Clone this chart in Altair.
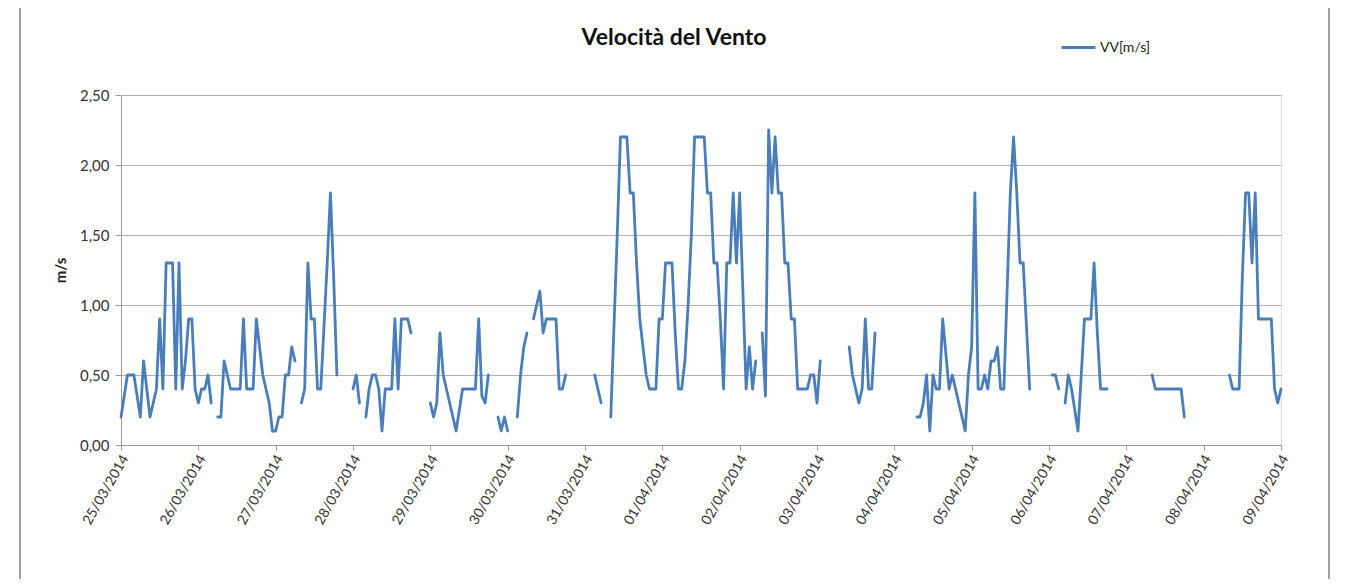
import json
import altair as alt
import pandas as pd

# hours since 25/03/2014 00:00 ; None in speed marks a gap in the record
hours = [0, 2, 4, 6, 7, 9, 10, 11, 12, 13, 14, 16, 17, 18, 19, 20, 21, 22, 23, 24, 25, 26, 27, 28, 29,
         30, 31, 32, 33, 34, 37, 38, 39, 41, 42, 43, 44, 45, 46, 47, 48, 49, 50, 51, 52, 53, 54, 55,
         56, 57, 58, 59, 60, 61, 62, 63, 64, 65, 66, 67, 70,
         72, 73, 74, 75,
         76, 77, 78, 79, 80, 81, 82, 84, 85, 86, 87, 89, 90, 93,
         96, 97, 98, 99, 100, 101, 102, 103, 104, 105, 106, 110, 111, 112, 113, 114, 116,
         117, 118, 119, 120, 121,
         123, 124, 125, 126, 127,
         128, 129, 130, 131, 132, 135, 136, 137, 138, 142,
         147, 148, 149, 150,
         152, 153, 154, 155, 157, 158, 159, 160, 161, 162, 163, 164, 166, 167, 168, 169, 171, 172,
         173, 174, 175, 176, 177, 178, 181, 182, 183, 184, 185, 186, 187, 188, 189, 190, 191, 192,
         193, 194, 195, 196, 197, 198,
         199, 200, 201, 202, 203, 204, 205, 206, 207, 208, 209, 210, 213, 214, 215, 216, 217, 220,
         226, 227, 228, 229, 230, 231, 232, 233, 234, 240,
         247, 248, 249, 250, 251, 252, 253, 254, 255, 256, 257, 258, 259, 260, 261, 262, 263, 264,
         265, 266, 267, 268, 269, 270, 271, 272, 273, 274, 275, 276, 277, 278, 279, 280, 281, 282, 285,
         289, 290, 291, 292,
         293, 294, 295, 296, 297, 298, 299, 301, 302, 303, 304, 306, 312,
         320, 321, 329, 330, 336,
         344, 345, 347, 348, 349, 350, 351, 352, 353, 357, 358, 359, 360]

speed = [0.2, 0.5, 0.5, 0.2, 0.6, 0.2, 0.3, 0.4, 0.9, 0.4, 1.3, 1.3, 0.4, 1.3, 0.4, 0.6, 0.9, 0.9, 0.4, 0.3, 0.4, 0.4, 0.5, 0.3, None,
         0.2, 0.2, 0.6, 0.5, 0.4, 0.4, 0.9, 0.4, 0.4, 0.9, 0.7, 0.5, 0.4, 0.3, 0.1, 0.1, 0.2, 0.2, 0.5, 0.5, 0.7, 0.6, None,
         0.3, 0.4, 1.3, 0.9, 0.9, 0.4, 0.4, 0.85, 1.3, 1.8, 1.2, 0.5, None,
         0.4, 0.5, 0.3, None,
         0.2, 0.4, 0.5, 0.5, 0.4, 0.1, 0.4, 0.4, 0.9, 0.4, 0.9, 0.9, 0.8, None,
         0.3, 0.2, 0.3, 0.8, 0.5, 0.4, 0.3, 0.2, 0.1, 0.25, 0.4, 0.4, 0.9, 0.35, 0.3, 0.5, None,
         0.2, 0.1, 0.2, 0.1, None,
         0.2, 0.5, 0.7, 0.8, None,
         0.9, 1.0, 1.1, 0.8, 0.9, 0.9, 0.4, 0.4, 0.5, None,
         0.5, 0.4, 0.3, None,
         0.2, 0.85, 1.5, 2.2, 2.2, 1.8, 1.8, 1.3, 0.9, 0.7, 0.5, 0.4, 0.4, 0.9, 0.9, 1.3, 1.3, 0.8,
         0.4, 0.4, 0.6, 1.0, 1.5, 2.2, 2.2, 1.8, 1.8, 1.3, 1.3, 0.9, 0.4, 1.3, 1.3, 1.8, 1.3, 1.8,
         1.1, 0.4, 0.7, 0.4, 0.6, None,
         0.8, 0.35, 2.25, 1.8, 2.2, 1.8, 1.8, 1.3, 1.3, 0.9, 0.9, 0.4, 0.4, 0.5, 0.5, 0.3, 0.6, None,
         0.7, 0.5, 0.4, 0.3, 0.4, 0.9, 0.4, 0.4, 0.8, None,
         0.2, 0.2, 0.3, 0.5, 0.1, 0.5, 0.4, 0.4, 0.9, 0.65, 0.4, 0.5, 0.4, 0.3, 0.2, 0.1, 0.5, 0.7,
         1.8, 0.4, 0.4, 0.5, 0.4, 0.6, 0.6, 0.7, 0.4, 0.4, 1.1, 1.8, 2.2, 1.8, 1.3, 1.3, 0.85, 0.4, None,
         0.5, 0.5, 0.4, None,
         0.3, 0.5, 0.4, 0.25, 0.1, 0.5, 0.9, 0.9, 1.3, 0.8, 0.4, 0.4, None,
         0.5, 0.4, 0.4, 0.2, None,
         0.5, 0.4, 0.4, 1.2, 1.8, 1.8, 1.3, 1.8, 0.9, 0.9, 0.4, 0.3, 0.4]

date_labels = ["25/03/2014", "26/03/2014", "27/03/2014", "28/03/2014", "29/03/2014",
               "30/03/2014", "31/03/2014", "01/04/2014", "02/04/2014", "03/04/2014",
               "04/04/2014", "05/04/2014", "06/04/2014", "07/04/2014", "08/04/2014",
               "09/04/2014"]
y_ticks = [0.0, 0.5, 1.0, 1.5, 2.0, 2.5]
series_name = "VV[m/s]"
chart_title = "Velocità del Vento"
y_title = "m/s"

rows = []
seg = 0
for h, v in zip(hours, speed):
    if v is None:
        seg += 1
        continue
    rows.append({"day": h / 24.0, "speed": v, "seg": seg, "series": series_name})
df = pd.DataFrame(rows)

FONT = "Lato"
W, H = 1160, 350

x_enc = alt.X("day:Q",
              scale=alt.Scale(domain=[0, 15], nice=False, zero=False),
              axis=alt.Axis(values=list(range(16)),
                            labelExpr=json.dumps(date_labels) + "[datum.value]",
                            labelAngle=-60, labelAlign="right", labelBaseline="middle",
                            labelFont=FONT, labelFontSize=14, labelColor="#333333",
                            labelPadding=6, labelOffset=4, tickSize=5, tickColor="#9a9a9a",
                            domainColor="#9a9a9a", grid=False, title=None,
                            labelOverlap=False))
y_enc = alt.Y("speed:Q",
              scale=alt.Scale(domain=[0, 2.5], nice=False),
              axis=alt.Axis(values=y_ticks,
                            labelExpr="replace(format(datum.value, '.2f'), '.', ',')",
                            labelFont=FONT, labelFontSize=15, labelColor="#333333",
                            labelPadding=6, tickSize=6, tickColor="#9a9a9a",
                            domainColor="#9a9a9a", grid=True, gridColor="#b0b0b0",
                            title=y_title, titleFont=FONT, titleFontSize=15,
                            titleFontWeight="bold", titleColor="#222222", titlePadding=11))

line = alt.Chart(df).mark_line(strokeWidth=2.8, strokeJoin="round", strokeCap="round").encode(
    x=x_enc,
    y=y_enc,
    detail="seg:N",
    color=alt.Color("series:N",
                    scale=alt.Scale(range=["#4a7ebb"]),
                    legend=alt.Legend(orient="none", legendX=939, legendY=-66, title=None,
                                      symbolType="stroke", symbolSize=1156,
                                      symbolStrokeWidth=3, labelFont=FONT,
                                      labelFontSize=14, labelColor="#222222",
                                      labelOffset=3)),
)

title_df = pd.DataFrame({"t": [chart_title]})
title = alt.Chart(title_df).mark_text(font=FONT, fontSize=23, fontWeight="bold",
                                      color="#111111", align="center",
                                      baseline="middle").encode(
    text="t:N", x=alt.value(553), y=alt.value(-57))

frame_df = pd.DataFrame({"k": [0]})
left_frame = alt.Chart(frame_df).mark_rule(color="#a0a0a0", strokeWidth=2).encode(
    x=alt.value(-101), y=alt.value(-87), y2=alt.value(484))
right_frame = alt.Chart(frame_df).mark_rule(color="#a0a0a0", strokeWidth=2).encode(
    x=alt.value(1208), y=alt.value(-87), y2=alt.value(484))

chart = alt.layer(left_frame, right_frame, line, title).properties(
    width=W, height=H,
    autosize=alt.AutoSizeParams(type="none"),
    padding={"left": 113, "top": 87, "right": 56, "bottom": 134},
).configure_view(strokeWidth=0).configure(background="white")

chart.save("out.html", embed_options={"renderer": "svg", "actions": False})
